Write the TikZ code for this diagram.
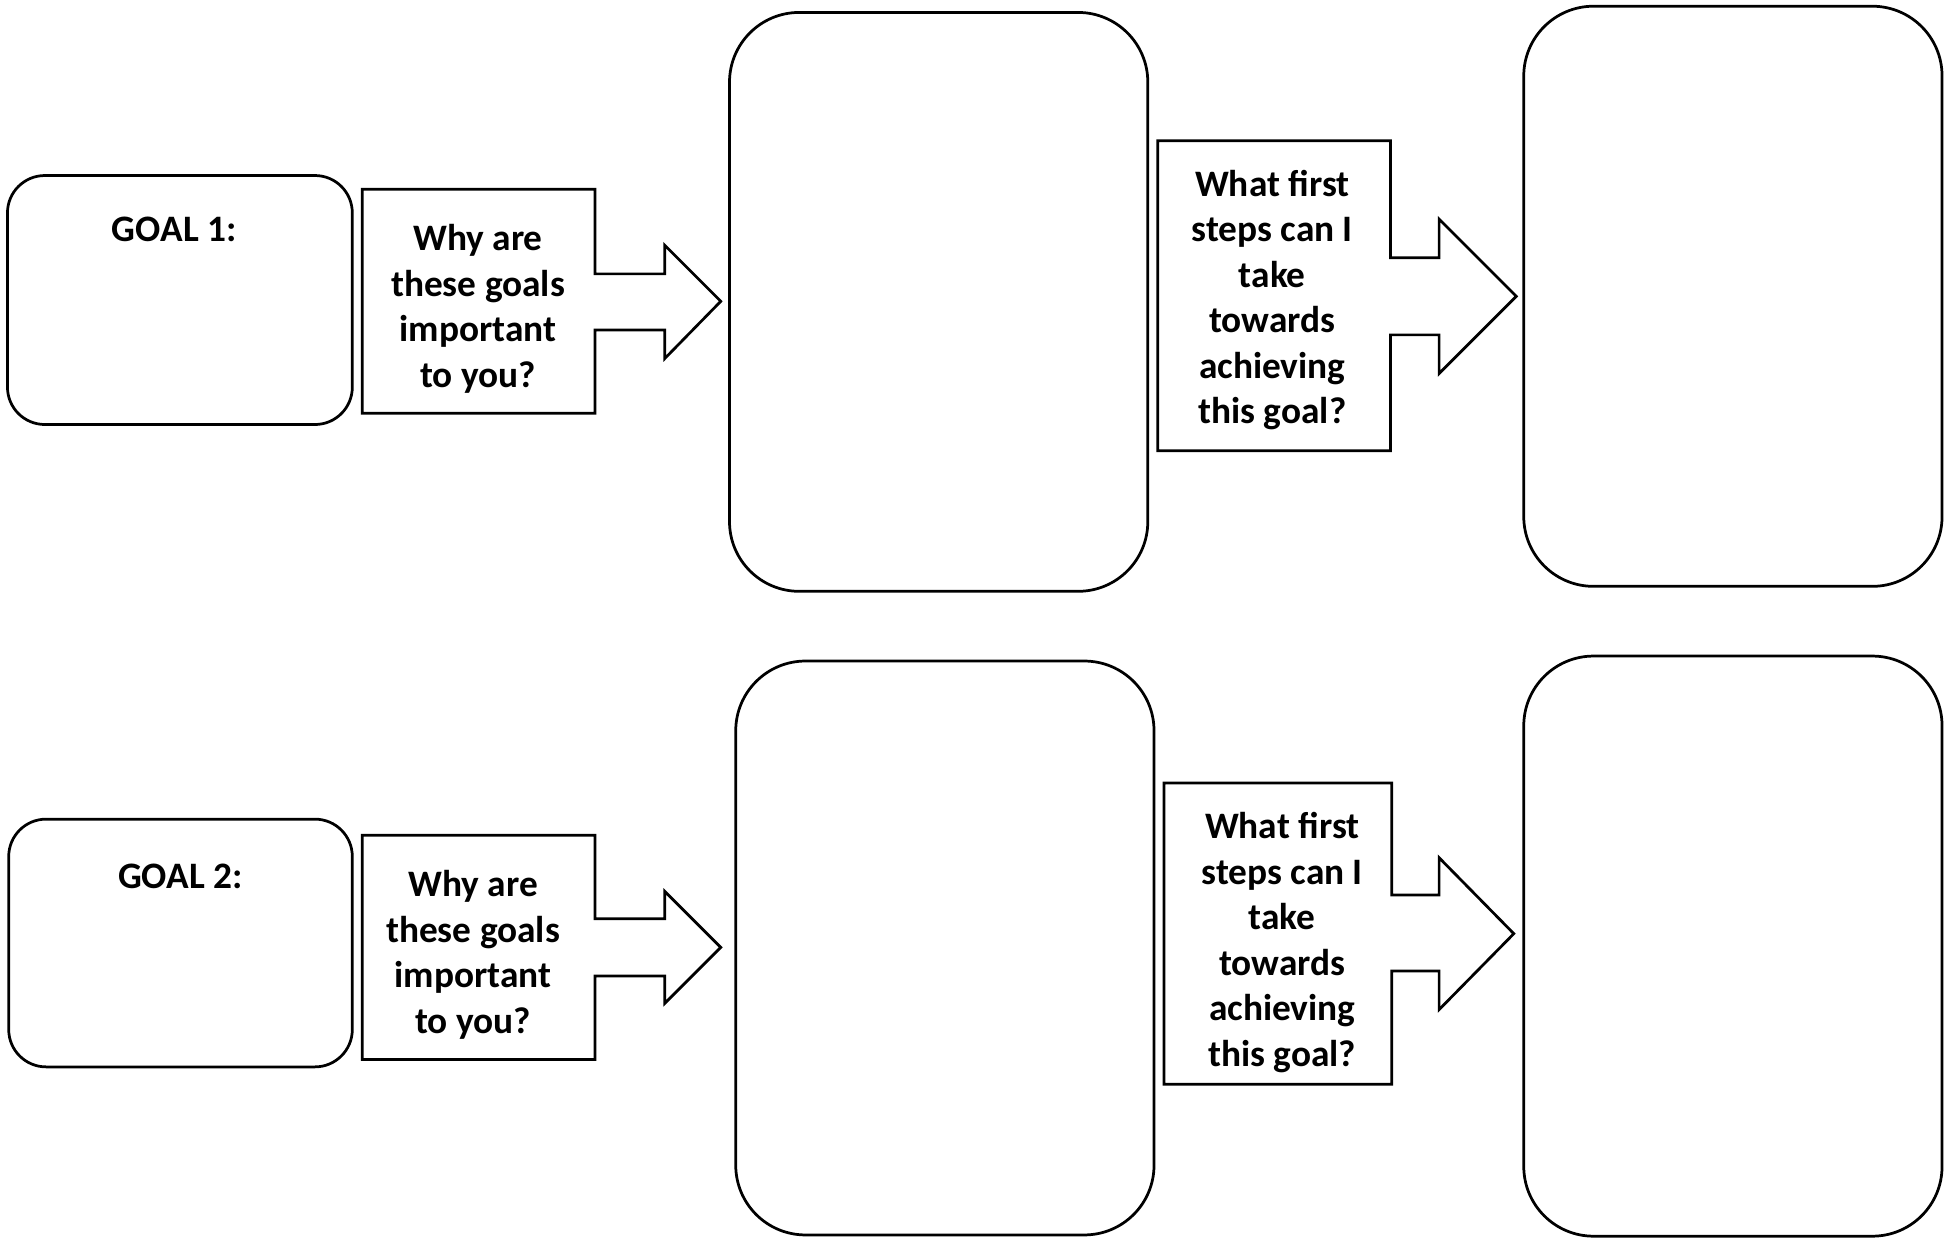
\documentclass[tikz,border=0pt]{standalone}
\usepackage{fontspec}
\setmainfont{Carlito}
\begin{document}
\begin{tikzpicture}[x=0.5pt,y=-0.5pt,line width=1.1pt,line join=miter,
  goalbox/.style={draw,rounded corners=15pt},
  bigbox/.style={draw,rounded corners=28pt},
  arrowshape/.style={draw},
  lbl/.style={align=center,inner sep=0pt,font=\fontsize{15}{18.3}\selectfont\bfseries}]
\useasboundingbox (0,0) rectangle (1568,994);
% ---- top row ----
\draw[goalbox] (6,141) rectangle (283,341);
\node[lbl] (g1) at (140,184) {GOAL 1:};
\draw[arrowshape] (291,152) -- (478,152) -- (478,220) -- (534,220) -- (534,197) -- (579,242) -- (534,288) -- (534,265) -- (478,265) -- (478,332) -- (291,332) -- cycle;
\node[lbl] (q1) at (384,248) {Why are\\these goals\\important\\to you?};
\draw[bigbox] (586,10) rectangle (922,475);
\draw[arrowshape] (930,113) -- (1117,113) -- (1117,207) -- (1156,207) -- (1156,176) -- (1218,238) -- (1156,300) -- (1156,269) -- (1117,269) -- (1117,362) -- (930,362) -- cycle;
\node[lbl] (s1) at (1022,241) {What first\\steps can I\\take\\towards\\achieving\\this goal?};
\draw[bigbox] (1224,5) rectangle (1560,471);
% ---- bottom row ----
\draw[goalbox] (7,658) rectangle (283,857);
\node[lbl] (g2) at (145,704) {GOAL 2:};
\draw[arrowshape] (291,671) -- (478,671) -- (478,738) -- (534,738) -- (534,716) -- (579,761) -- (534,806) -- (534,784) -- (478,784) -- (478,851) -- (291,851) -- cycle;
\node[lbl] (q2) at (380,767) {Why are\\these goals\\important\\to you?};
\draw[bigbox] (591,531) rectangle (927,992);
\draw[arrowshape] (935,629) -- (1118,629) -- (1118,719) -- (1156,719) -- (1156,689) -- (1216,750) -- (1156,811) -- (1156,780) -- (1118,780) -- (1118,871) -- (935,871) -- cycle;
\node[lbl] (s2) at (1030,757) {What first\\steps can I\\take\\towards\\achieving\\this goal?};
\draw[bigbox] (1224,527) rectangle (1560,993);
\end{tikzpicture}
\end{document}
